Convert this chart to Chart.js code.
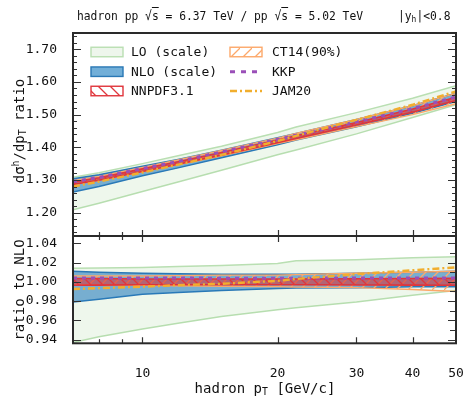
<!DOCTYPE html>
<html><head><meta charset="utf-8">
<script src="https://cdn.jsdelivr.net/npm/chart.js"></script>
<style>
body{margin:0;background:#fff;width:466px;height:400px;position:relative;overflow:hidden;font-family:"DejaVu Sans Mono",monospace;color:#111;}
canvas{position:absolute;left:0;}
#cTop{top:0}
#cBot{top:230px}
.t{position:absolute;white-space:nowrap;line-height:1;}
.t sub,.t sup{font-size:70%;line-height:0;}
.t sub{vertical-align:-0.25em}
.t sup{vertical-align:0.5em}
.rot{transform:translate(-50%,-50%) rotate(-90deg);}
.ctr{transform:translate(-50%,-50%);}
</style></head><body>
<canvas id="cTop" width="466" height="240"></canvas>
<canvas id="cBot" width="466" height="170"></canvas>
<div class="t" style="left:77px;top:9px;font-size:13px;transform:scaleX(0.87);transform-origin:0 0;">hadron pp √<span style="text-decoration:overline">s</span> = 6.37 TeV / pp √<span style="text-decoration:overline">s</span> = 5.02 TeV</div>
<div class="t" style="left:398px;top:9px;font-size:13px;transform:scaleX(0.87);transform-origin:0 0;">|y<sub>h</sub>|&lt;0.8</div>
<div class="t rot" style="left:19px;top:131px;font-size:14px;">dσ<sup>h</sup>/dp<sub>T</sub> ratio</div>
<div class="t rot" style="left:19px;top:290px;font-size:14px;">ratio to NLO</div>
<div class="t ctr" style="left:265px;top:388px;font-size:14px;">hadron p<sub>T</sub> [GeV/c]</div>
<script>
// ---------- data ----------
const pT = [7, 8, 10, 12, 15, 20, 22, 30, 40, 50];
// upper panel: cross-section ratio 6.37 TeV / 5.02 TeV
const loHi    = [1.308,1.322,1.350,1.374,1.403,1.445,1.462,1.506,1.550,1.588];
const loLo    = [1.209,1.229,1.265,1.294,1.330,1.377,1.392,1.441,1.491,1.530];
const nloHi   = [1.304,1.316,1.342,1.363,1.391,1.429,1.442,1.485,1.527,1.565];
const nloLo   = [1.263,1.280,1.313,1.337,1.368,1.408,1.422,1.463,1.504,1.540];
const nnpdfHi = [1.294,1.307,1.334,1.356,1.384,1.422,1.435,1.476,1.517,1.553];
const nnpdfLo = [1.286,1.299,1.326,1.348,1.376,1.414,1.427,1.468,1.507,1.543];
const ct14Hi  = [1.298,1.311,1.338,1.361,1.390,1.428,1.442,1.485,1.527,1.565];
const ct14Lo  = [1.286,1.299,1.325,1.347,1.374,1.411,1.423,1.463,1.500,1.533];
const kkp     = [1.295,1.308,1.335,1.357,1.386,1.424,1.437,1.478,1.518,1.554];
const jam20   = [1.280,1.295,1.323,1.347,1.377,1.419,1.435,1.484,1.530,1.571];
// lower panel: ratio to NLO
const rLoHi    = [1.014,1.0145,1.015,1.016,1.017,1.019,1.022,1.023,1.025,1.026];
const rLoLo    = [0.937,0.943,0.951,0.957,0.964,0.971,0.973,0.979,0.986,0.991];
const rNloHi   = [1.011,1.010,1.009,1.0085,1.008,1.008,1.008,1.009,1.010,1.011];
const rNloLo   = [0.979,0.982,0.987,0.989,0.991,0.993,0.9935,0.994,0.995,0.995];
const rNnpdfHi = [1.0035,1.0035,1.003,1.003,1.003,1.003,1.003,1.0032,1.0034,1.0036];
const rNnpdfLo = [0.9965,0.9966,0.997,0.997,0.997,0.997,0.997,0.9968,0.9966,0.9964];
const rCt14Hi  = [1.006,1.006,1.006,1.0065,1.007,1.007,1.0075,1.009,1.010,1.011];
const rCt14Lo  = [0.997,0.997,0.9965,0.996,0.9955,0.995,0.9945,0.994,0.992,0.990];
const rKkp     = [1.004,1.004,1.004,1.004,1.0038,1.0038,1.0038,1.004,1.004,1.004];
const rJam20   = [0.9925,0.9935,0.995,0.9965,0.998,1.001,1.003,1.008,1.012,1.015];
// ticks
const topTickLabels = [1.20,1.30,1.40,1.50,1.60,1.70];
const botTickLabels = [0.94,0.96,0.98,1.00,1.02,1.04];
const xTickLabels = [10,20,30,40,50];
const xTickMarks = [8,9,10,20,30,40];
const legendLabels = ['LO (scale)','NLO (scale)','NNPDF3.1','CT14(90%)','KKP','JAM20'];

// ---------- styles ----------
const FONT = '"DejaVu Sans Mono", monospace';
const C = {
  loFill:'rgba(170,215,160,0.20)', loLine:'#b9dfb2',
  nloFill:'rgba(40,125,190,0.60)', nloLine:'#2a78b5',
  red:'#e0363c', orange:'#fca86a', kkp:'#9a4fb8', jam:'#f1ae2e'
};
function hatch(color, dir, bg){
  const s = 12, c = document.createElement('canvas'); c.width = s; c.height = s;
  const g = c.getContext('2d');
  if (bg){ g.fillStyle = bg; g.fillRect(0,0,s,s); }
  g.strokeStyle = color; g.lineWidth = 1.3; g.beginPath();
  if (dir === '/') { g.moveTo(-1,s+1); g.lineTo(s+1,-1); g.moveTo(-2,1); g.lineTo(1,-2); g.moveTo(s-1,s+2); g.lineTo(s+2,s-1); }
  else { g.moveTo(-1,-1); g.lineTo(s+1,s+1); g.moveTo(s-1,-2); g.lineTo(s+2,1); g.moveTo(-2,s-1); g.lineTo(1,s+2); }
  g.stroke();
  return document.createElement('canvas').getContext('2d').createPattern(c,'repeat');
}
const redHatch = hatch(C.red,'\\','rgba(218,50,56,0.6)');
const orHatch = hatch(C.orange,'/',null);
const redHatchLegend = hatch(C.red,'\\',null);

const pts = arr => pT.map((x,i)=>({x, y:arr[i]}));
function band(hi, lo, fill, line, lw){
  return [
    {data:pts(hi), borderColor:line, borderWidth:lw, pointRadius:0, fill:{target:'+1', above:fill, below:fill}, tension:0, clip:0},
    {data:pts(lo), borderColor:line, borderWidth:lw, pointRadius:0, fill:false, tension:0, clip:0}
  ];
}
function lineDs(arr, color, dash, lw){
  return {data:pts(arr), borderColor:color, borderWidth:lw, borderDash:dash, pointRadius:0, fill:false, tension:0, clip:0};
}
function datasets(v){
  // first dataset drawn on top
  return [
    lineDs(v.jam, C.jam, [7,3,2,3], 2.4),
    lineDs(v.kkp, C.kkp, [4,5], 3),
    ...band(v.nnHi, v.nnLo, redHatch, C.red, 1.6),
    ...band(v.ctHi, v.ctLo, orHatch, C.orange, 1.4),
    ...band(v.nloHi, v.nloLo, C.nloFill, C.nloLine, 1.5),
    ...band(v.loHi, v.loLo, C.loFill, C.loLine, 1.5)
  ];
}

// ---------- plugins ----------
const framePlugin = {
  id:'frame',
  afterDraw(chart, args, o){
    const {ctx, chartArea:a} = chart, x = chart.scales.x, y = chart.scales.y;
    ctx.save(); ctx.strokeStyle = '#333'; ctx.lineWidth = 1.2; ctx.beginPath();
    const yt = (v, lenL, lenR) => {
      const p = Math.round(y.getPixelForValue(v)) + 0.5;
      if (lenL) { ctx.moveTo(a.left, p); ctx.lineTo(a.left + lenL, p); }
      if (lenR) { ctx.moveTo(a.right, p); ctx.lineTo(a.right - lenR, p); }
    };
    o.yMajor.forEach(v => yt(v, 8, 8));
    o.yMinor.forEach(v => yt(v, o.leftMinor ? 4 : 0, o.rightMinorLen));
    xTickMarks.forEach(v => {
      const p = Math.round(x.getPixelForValue(v)) + 0.5, len = v >= 10 ? 6 : 4;
      if (o.xTop) { ctx.moveTo(p, a.top); ctx.lineTo(p, a.top + len); }
      if (o.xBot) { ctx.moveTo(p, a.bottom); ctx.lineTo(p, a.bottom - len); }
    });
    ctx.stroke();
    ctx.lineWidth = 2; ctx.strokeStyle = '#2a2a2a';
    ctx.strokeRect(a.left, a.top, a.right - a.left, a.bottom - a.top);
    ctx.restore();
  }
};
const legendPlugin = {
  id:'bandLegend',
  afterDraw(chart){
    const ctx = chart.ctx; ctx.save();
    const rows = [52, 71.7, 91], cols = [{bx:91, tx:131},{bx:230, tx:272}], bw = 32, bh = 9.5;
    const styles = [
      {fill:'#eef6ec', stroke:C.loLine},
      {fill:'#72afd8', stroke:C.nloLine},
      {fill:redHatchLegend, stroke:C.red},
      {fill:orHatch, stroke:C.orange},
      {dash:[5,6], color:C.kkp, lw:3},
      {dash:[7,3,2,3], color:C.jam, lw:2.4}
    ];
    legendLabels.forEach((lab, i) => {
      const col = cols[Math.floor(i/3)], cy = rows[i%3], st = styles[i];
      if (st.stroke) {
        ctx.fillStyle = st.fill; ctx.fillRect(col.bx, cy - bh/2, bw, bh);
        ctx.lineWidth = 1.4; ctx.strokeStyle = st.stroke; ctx.setLineDash([]);
        ctx.strokeRect(col.bx, cy - bh/2, bw, bh);
      } else {
        ctx.beginPath(); ctx.setLineDash(st.dash); ctx.lineWidth = st.lw; ctx.strokeStyle = st.color;
        ctx.moveTo(col.bx, cy); ctx.lineTo(col.bx + bw, cy); ctx.stroke(); ctx.setLineDash([]);
      }
      ctx.fillStyle = '#111'; ctx.font = '13px ' + FONT; ctx.textBaseline = 'middle'; ctx.textAlign = 'left';
      ctx.fillText(lab, col.tx, cy + 0.5);
    });
    ctx.restore();
  }
};

const range = (a, b, s) => { const r = []; for (let v = a; v <= b + 1e-9; v += s) r.push(+v.toFixed(3)); return r; };

function yAxis(min, max, labels){
  return {
    type:'linear', min, max,
    grid:{display:false}, border:{display:false},
    afterFit: s => { s.width = 73; s.paddingTop = 0; s.paddingBottom = 0; },
    afterBuildTicks: s => { s.ticks = labels.map(v => ({value:v})); },
    ticks:{padding:8, color:'#111', font:{family:FONT, size:13}, callback: v => (+v).toFixed(2)}
  };
}

new Chart(document.getElementById('cTop'), {
  type:'line',
  data:{datasets:datasets({jam:jam20, kkp, nnHi:nnpdfHi, nnLo:nnpdfLo, ctHi:ct14Hi, ctLo:ct14Lo, nloHi, nloLo, loHi, loLo})},
  options:{
    responsive:false, animation:false, events:[],
    layout:{padding:{top:33, right:10, bottom:4, left:0}},
    plugins:{legend:{display:false}, tooltip:{enabled:false},
      frame:{yMajor:topTickLabels, yMinor:range(1.14,1.74,0.02), leftMinor:true, rightMinorLen:4, xTop:false, xBot:true}},
    scales:{
      x:{type:'logarithmic', min:7, max:50, display:false},
      y:yAxis(1.1287, 1.7495, topTickLabels)
    }
  },
  plugins:[framePlugin, legendPlugin]
});

new Chart(document.getElementById('cBot'), {
  type:'line',
  data:{datasets:datasets({jam:rJam20, kkp:rKkp, nnHi:rNnpdfHi, nnLo:rNnpdfLo, ctHi:rCt14Hi, ctLo:rCt14Lo, nloHi:rNloHi, nloLo:rNloLo, loHi:rLoHi, loLo:rLoLo})},
  options:{
    responsive:false, animation:false, events:[],
    layout:{padding:{top:6, right:10, bottom:0, left:0}},
    plugins:{legend:{display:false}, tooltip:{enabled:false},
      frame:{yMajor:botTickLabels, yMinor:range(0.95,1.03,0.02), leftMinor:false, rightMinorLen:6, xTop:true, xBot:true}},
    scales:{
      x:{type:'logarithmic', min:7, max:50,
        grid:{display:false}, border:{display:false},
        afterFit: s => { s.height = 56.7; s.paddingLeft = 0; s.paddingRight = 0; },
        afterBuildTicks: s => { s.ticks = xTickLabels.map(v => ({value:v})); },
        ticks:{padding:15, autoSkip:false, maxRotation:0, color:'#111', font:{family:FONT, size:13}, callback: v => String(v)}
      },
      y:yAxis(0.9362, 1.0476, botTickLabels)
    }
  },
  plugins:[framePlugin]
});
</script>
</body></html>
